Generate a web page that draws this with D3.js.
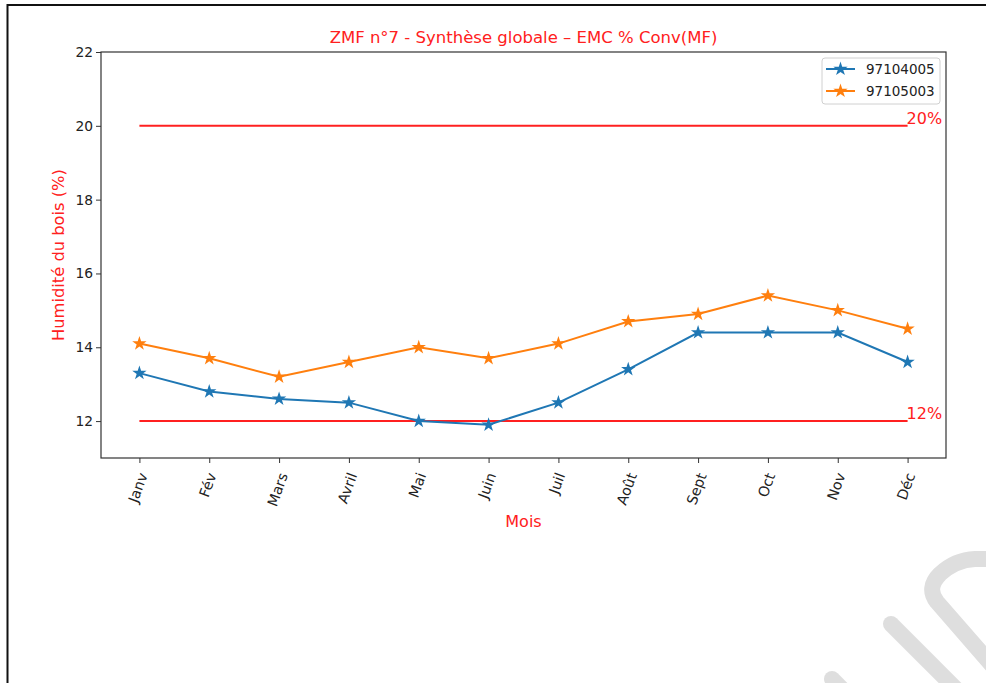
<!doctype html>
<html>

<head>
  <meta charset="utf-8">
  <title>ZMF n°7 - Synthèse globale</title>
  <style>
    body {
      margin: 0;
      background: #fff;
    }

    #chart text {
      font-family: "DejaVu Sans", sans-serif;
    }
  </style>
</head>

<body>
  <div id="chart"></div>
  <script src="https://cdn.jsdelivr.net/npm/d3@7"></script>
  <script>
    const months = ['Janv', 'Fév', 'Mars', 'Avril', 'Mai', 'Juin', 'Juil', 'Août', 'Sept', 'Oct', 'Nov', 'Déc'];
    const s97104005 = [13.3, 12.8, 12.6, 12.5, 12.0, 11.9, 12.5, 13.4, 14.4, 14.4, 14.4, 13.6];
    const s97105003 = [14.1, 13.7, 13.2, 13.6, 14.0, 13.7, 14.1, 14.7, 14.9, 15.4, 15.0, 14.5];
    const seriesNames = ['97104005', '97105003'];
    const thresholds = [20, 12];
    const yTicks = [12, 14, 16, 18, 20, 22];

    const W = 986, H = 683;
    const mLeft = 101, mRight = 946, mTop = 52, mBottom = 458;
    const colors = ['#1f77b4', '#ff7f0e'];
    const red = '#ff2020';

    const svg = d3.select('#chart').append('svg')
      .attr('width', W)
      .attr('height', H);

    // page frame + watermark
    svg.append('path')
      .attr('d', `M7.5,${H} L7.5,5 L${W},5`)
      .attr('fill', 'none')
      .attr('stroke', '#111')
      .attr('stroke-width', 2);

    const wm = svg.append('g')
      .attr('fill', 'none')
      .attr('stroke', '#dedede')
      .attr('stroke-width', 16)
      .attr('stroke-linecap', 'round');
    wm.append('path').attr('d', 'M891,624 L960,693');
    wm.append('path').attr('d', 'M1005,680 L937,602 Q926,588 940,574 Q955,560 975,559 L1000,559');
    wm.append('path').attr('d', 'M832,679 L850,697');

    const x = d3.scaleLinear().domain([-0.55, 11.55]).range([mLeft, mRight]);
    const y = d3.scaleLinear().domain([11, 22]).range([mBottom, mTop]);

    // axes
    const xAxis = svg.append('g')
      .attr('transform', `translate(0,${mBottom})`)
      .call(d3.axisBottom(x).tickValues(d3.range(months.length)).tickFormat(i => months[i]).tickSize(5).tickSizeOuter(0));
    const yAxis = svg.append('g')
      .attr('transform', `translate(${mLeft},0)`)
      .call(d3.axisLeft(y).tickValues(yTicks).tickSize(5).tickSizeOuter(0));

    [xAxis, yAxis].forEach(a => {
      a.select('.domain').remove();
      a.selectAll('line').attr('stroke', '#333').attr('stroke-width', 1);
      a.selectAll('text').attr('fill', '#222').style('font-size', '13.8px');
    });
    yAxis.selectAll('text').attr('x', -8);
    xAxis.selectAll('text').style('font-size', '14.3px');

    // rotated month labels, centred under their tick
    const ang = 70 * Math.PI / 180;
    xAxis.selectAll('text').each(function () {
      const t = d3.select(this);
      const L = this.getComputedTextLength();
      const h = 14;
      const cy = 13 + (L * Math.sin(ang) + h * Math.cos(ang)) / 2;
      t.attr('y', null).attr('dy', null)
        .attr('text-anchor', 'middle')
        .attr('dominant-baseline', 'central')
        .attr('transform', `translate(-2,${cy}) rotate(-70)`);
    });

    svg.append('rect')
      .attr('x', mLeft).attr('y', mTop)
      .attr('width', mRight - mLeft).attr('height', mBottom - mTop)
      .attr('fill', 'none')
      .attr('stroke', '#333')
      .attr('stroke-width', 1.2);

    // threshold lines
    thresholds.forEach(v => {
      svg.append('line')
        .attr('x1', x(0)).attr('x2', x(11))
        .attr('y1', y(v)).attr('y2', y(v))
        .attr('stroke', red)
        .attr('stroke-width', 2);
      svg.append('text')
        .attr('x', x(11) - 1).attr('y', y(v) - 2)
        .attr('fill', red)
        .style('font-size', '16px')
        .text(v + '%');
    });

    // series
    const line = d3.line().x((d, i) => x(i)).y(d => y(d));
    const star = d3.symbol().type(d3.symbolStar).size(64);
    [s97104005, s97105003].forEach((s, k) => {
      svg.append('path')
        .datum(s)
        .attr('d', line)
        .attr('fill', 'none')
        .attr('stroke', colors[k])
        .attr('stroke-width', 2);
      svg.append('g').selectAll('path')
        .data(s)
        .join('path')
        .attr('d', star)
        .attr('transform', (d, i) => `translate(${x(i)},${y(d)})`)
        .attr('fill', colors[k]);
    });

    // titles
    svg.append('text')
      .attr('x', (mLeft + mRight) / 2).attr('y', 43)
      .attr('text-anchor', 'middle')
      .attr('fill', red)
      .style('font-size', '16.5px')
      .text('ZMF n°7 - Synthèse globale – EMC % Conv(MF)');
    svg.append('text')
      .attr('x', (mLeft + mRight) / 2).attr('y', 527)
      .attr('text-anchor', 'middle')
      .attr('fill', red)
      .style('font-size', '16px')
      .text('Mois');
    svg.append('text')
      .attr('transform', `translate(64,${(mTop + mBottom) / 2}) rotate(-90)`)
      .attr('text-anchor', 'middle')
      .attr('fill', red)
      .style('font-size', '16.3px')
      .text('Humidité du bois (%)');

    // legend
    const lg = svg.append('g').attr('transform', 'translate(822,58)');
    lg.append('rect')
      .attr('width', 118).attr('height', 46).attr('rx', 3)
      .attr('fill', '#fff').attr('fill-opacity', 0.8)
      .attr('stroke', '#d0d0d0');
    seriesNames.forEach((n, k) => {
      const ly = 11 + k * 22;
      lg.append('line')
        .attr('x1', 4).attr('x2', 33).attr('y1', ly).attr('y2', ly)
        .attr('stroke', colors[k]).attr('stroke-width', 2);
      lg.append('path')
        .attr('d', star)
        .attr('transform', `translate(18.5,${ly})`)
        .attr('fill', colors[k]);
      lg.append('text')
        .attr('x', 44).attr('y', ly + 5)
        .attr('fill', '#222')
        .style('font-size', '13.5px')
        .text(n);
    });
  </script>
</body>

</html>
